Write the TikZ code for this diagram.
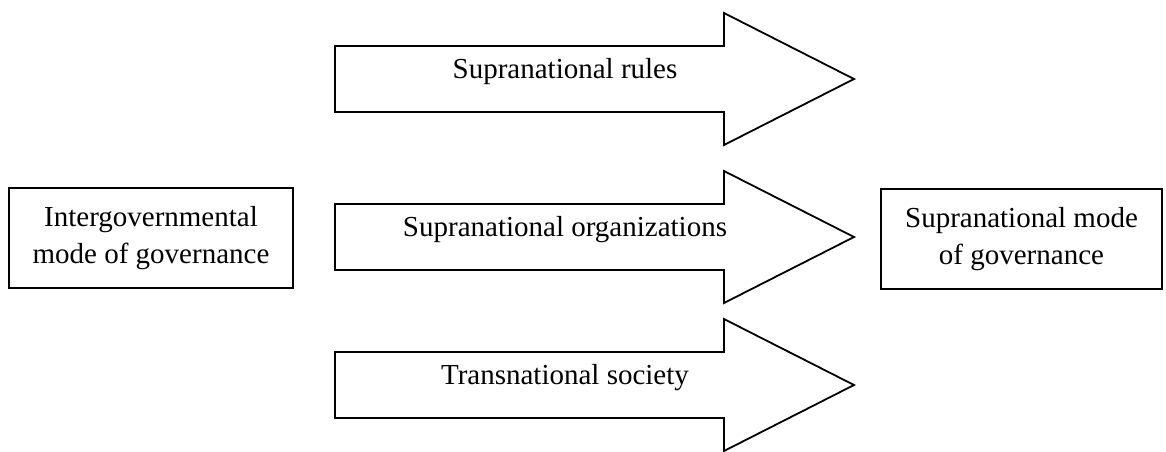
\documentclass[tikz,border=0pt]{standalone}
\usepackage{fontspec}
\setmainfont{Liberation Serif}
\usetikzlibrary{positioning,calc}
\tikzset{
  govbox/.style={
    draw=black, line width=0.9pt, align=center, inner sep=0pt,
    minimum height=50pt, font=\fontsize{14.5}{18.5}\selectfont
  },
  flowarrow/.style={
    draw=black, fill=white, line width=0.9pt, line join=miter
  },
  arrowlabel/.style={
    inner sep=0pt, anchor=base, font=\fontsize{14.5}{18.5}\selectfont
  }
}

\begin{document}
\begin{tikzpicture}[x=0.5pt, y=-0.5pt]
  \useasboundingbox (0,0) rectangle (1166,451);
  % the two modes of governance
  \node[govbox, minimum width=142pt] (intergov) at (151,238) {Intergovernmental\\mode of governance};
  \node[govbox, minimum width=140.5pt] (supranat) at (1021.5,239) {Supranational mode\\of governance};
  % the three block arrows between them
  \foreach \ty/\name/\txt in {79/rules/Supranational rules, 237/orgs/Supranational organizations, 385/society/Transnational society}{
    \draw[flowarrow] (335,\ty-33) -- (724,\ty-33) -- (724,\ty-66) -- (854,\ty)
      -- (724,\ty+66) -- (724,\ty+33) -- (335,\ty+33) -- cycle;
    \node[arrowlabel] (\name) at (565,\ty-1) {\txt};
  }
\end{tikzpicture}
\end{document}
